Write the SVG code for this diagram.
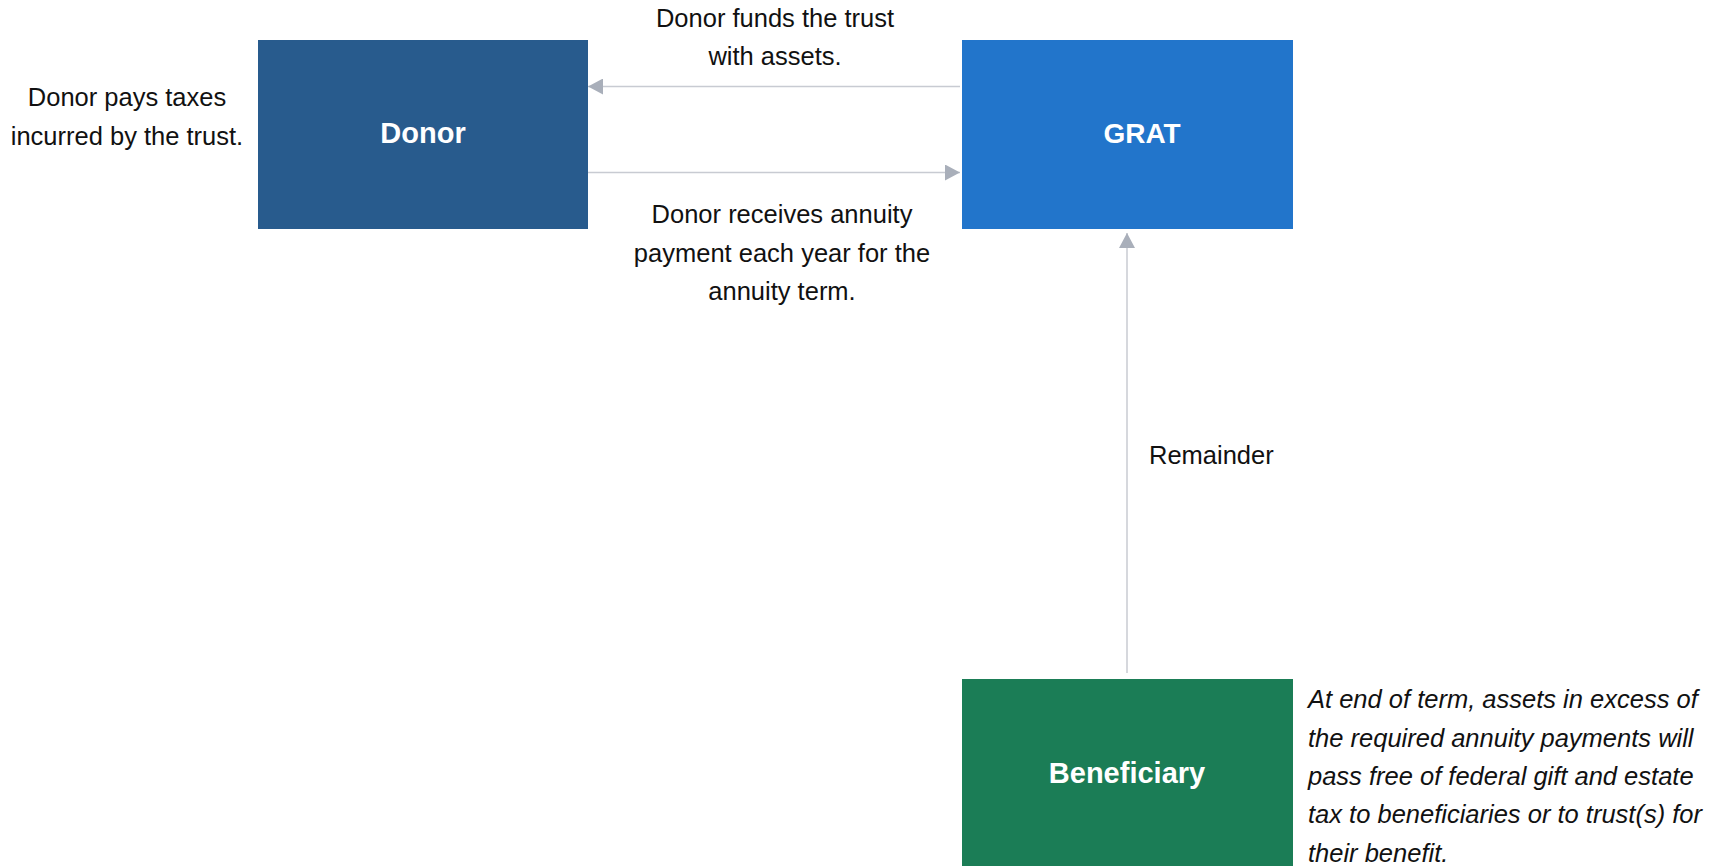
<svg xmlns="http://www.w3.org/2000/svg" width="1725" height="866" viewBox="0 0 1725 866">
  <defs>
    <style>
      .node-label { font-family: "Liberation Sans", Arial, sans-serif; font-weight: bold; font-size: 28px; fill: #ffffff; text-anchor: middle; }
      .lbl { font-family: "Liberation Sans", Arial, sans-serif; font-size: 25.5px; fill: #111111; }
      .mid { text-anchor: middle; }
      .it { font-style: italic; font-size: 25.5px; }
      .edge { stroke: #c8cbd2; stroke-width: 1.5; fill: none; }
    </style>
    <marker id="arrow" viewBox="0 0 15 16" refX="15" refY="8" markerWidth="15" markerHeight="16" markerUnits="userSpaceOnUse" orient="auto">
      <path d="M0,0 L15,8 L0,16 Z" fill="#a9afba"/>
    </marker>
  </defs>
  <rect width="1725" height="866" fill="#ffffff"/>

  <g id="connectors">
    <line class="edge" x1="960" y1="86.5" x2="588" y2="86.5" marker-end="url(#arrow)"/>
    <line class="edge" x1="588" y1="172.5" x2="960" y2="172.5" marker-end="url(#arrow)"/>
    <line class="edge" x1="1127" y1="673" x2="1127" y2="233" marker-end="url(#arrow)"/>
  </g>

  <g id="node-donor">
    <rect x="258" y="40" width="330" height="189" fill="#285b8d"/>
    <text class="node-label" x="423" y="143" style="font-size:29px">Donor</text>
  </g>
  <g id="node-grat">
    <rect x="962" y="40" width="331" height="189" fill="#2275cb"/>
    <text class="node-label" x="1142" y="143">GRAT</text>
  </g>
  <g id="node-beneficiary">
    <rect x="962" y="679" width="331" height="187" fill="#1b7d56"/>
    <text class="node-label" x="1127" y="783" style="font-size:29px">Beneficiary</text>
  </g>

  <g id="labels">
    <text class="lbl mid" x="775" y="27">Donor funds the trust</text>
    <text class="lbl mid" x="775" y="65">with assets.</text>
    <text class="lbl mid" x="127" y="106">Donor pays taxes</text>
    <text class="lbl mid" x="127" y="145">incurred by the trust.</text>
    <text class="lbl mid" x="782" y="223">Donor receives annuity</text>
    <text class="lbl mid" x="782" y="262">payment each year for the</text>
    <text class="lbl mid" x="782" y="300">annuity term.</text>
    <text class="lbl" x="1149" y="464">Remainder</text>
    <text class="lbl it" x="1308" y="708">At end of term, assets in excess of</text>
    <text class="lbl it" x="1308" y="747">the required annuity payments will</text>
    <text class="lbl it" x="1308" y="785">pass free of federal gift and estate</text>
    <text class="lbl it" x="1308" y="823">tax to beneficiaries or to trust(s) for</text>
    <text class="lbl it" x="1308" y="862">their benefit.</text>
  </g>
</svg>
